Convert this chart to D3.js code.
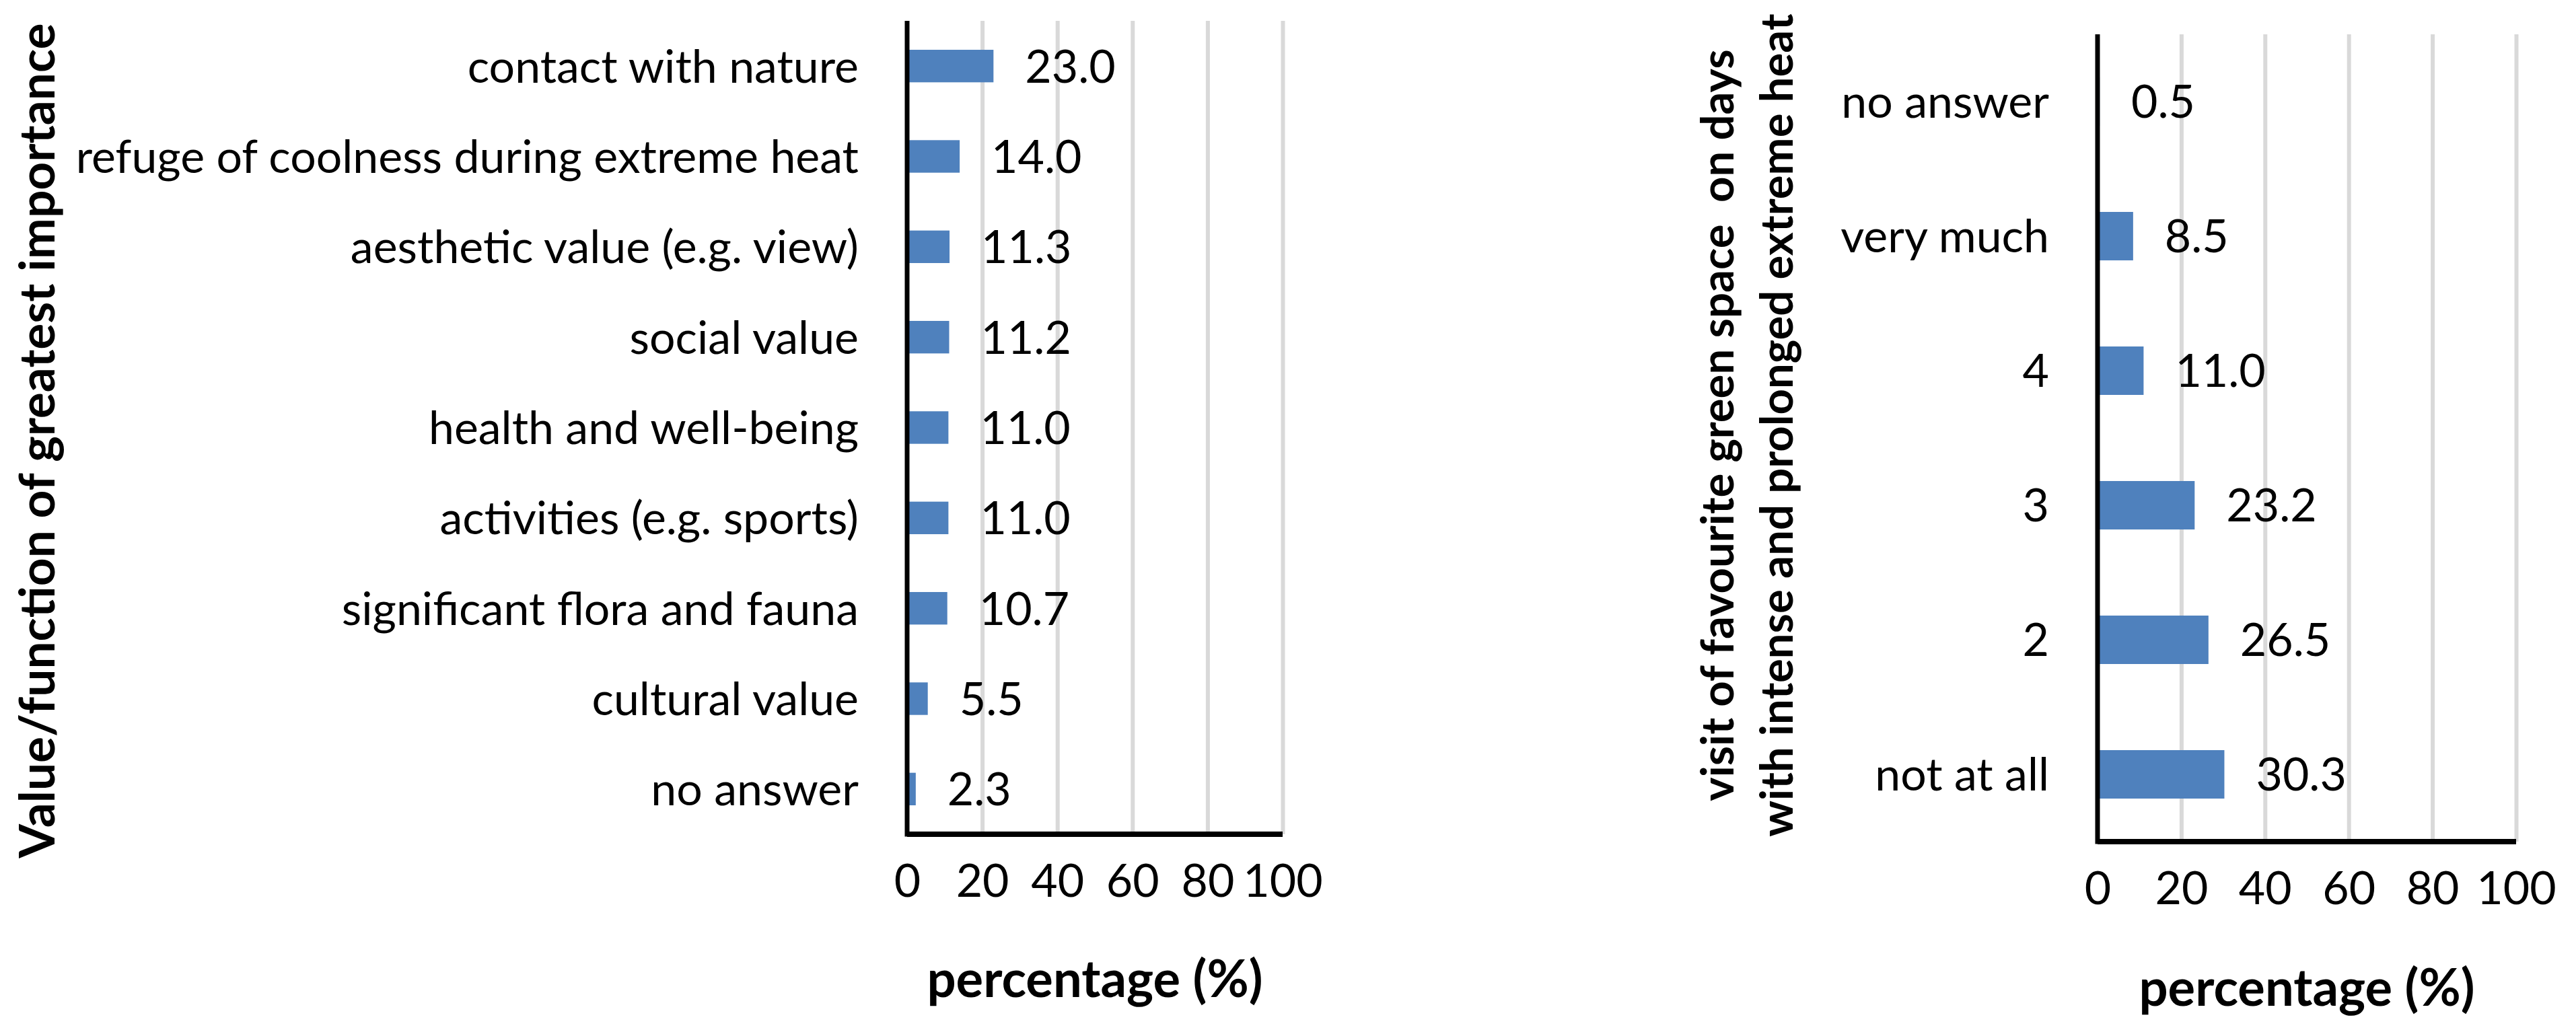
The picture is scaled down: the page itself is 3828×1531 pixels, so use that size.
<!DOCTYPE html>
<html>
<head>
<meta charset="utf-8">
<script src="https://cdn.jsdelivr.net/npm/d3@7"></script>
<style>
  body { margin: 0; background: #fff; }
  svg text { font-family: Lato, "Open Sans", sans-serif; fill: #000; white-space: pre; }
</style>
</head>
<body>
<svg id="chart" width="3828" height="1531"></svg>
<script>
// ---------------- DATA ----------------
const importanceCategories = [
  "contact with nature",
  "refuge of coolness during extreme heat",
  "aesthetic value (e.g. view)",
  "social value",
  "health and well-being",
  "activities (e.g. sports)",
  "significant flora and fauna",
  "cultural value",
  "no answer"
];
const importanceValues = [23.0, 14.0, 11.3, 11.2, 11.0, 11.0, 10.7, 5.5, 2.3];

const heatVisitCategories = ["no answer", "very much", "4", "3", "2", "not at all"];
const heatVisitValues = [0.5, 8.5, 11.0, 23.2, 26.5, 30.3];

const xTickValues = [0, 20, 40, 60, 80, 100];
const xAxisTitle = "percentage (%)";
const leftYTitle = ["Value/function of greatest importance"];
const rightYTitle = ["visit of favourite green space  on days", "with intense and prolonged extreme heat"];

// ---------------- STYLE / LAYOUT ----------------
const BAR_COLOR = "#4f81bd";
const GRID_COLOR = "#d9d9d9";
const LABEL_SIZE = 68;
const XTITLE_SIZE = 76;

const panels = [
  {
    categories: importanceCategories, values: importanceValues,
    x0: 1348, x1: 1906, top: 31, bottom: 1240,
    titleLines: leftYTitle, titleXs: [55], titleY: 655, titleSize: 73,
    xTitleY: 1455
  },
  {
    categories: heatVisitCategories, values: heatVisitValues,
    x0: 3117, x1: 3739, top: 51, bottom: 1251,
    titleLines: rightYTitle, titleXs: [2552, 2640], titleY: 632, titleSize: 67,
    xTitleY: 1468
  }
];

const svg = d3.select("#chart");

panels.forEach(p => {
  const g = svg.append("g");
  const x = d3.scaleLinear().domain([0, 100]).range([p.x0, p.x1]);
  const pad = 0.64;
  const y = d3.scaleBand().domain(p.categories).range([p.top, p.bottom])
    .paddingInner(pad).paddingOuter(pad / 2);

  // gridlines
  const grid = g.append("g")
    .attr("transform", `translate(0,${p.bottom})`)
    .call(d3.axisBottom(x).tickValues(xTickValues.filter(v => v > 0))
      .tickSize(-(p.bottom - p.top)).tickFormat(""));
  grid.select(".domain").remove();
  grid.selectAll(".tick line").attr("stroke", GRID_COLOR).attr("stroke-width", 6);

  // bars
  g.selectAll("rect.bar").data(p.values).join("rect")
    .attr("class", "bar")
    .attr("x", x(0))
    .attr("y", (d, i) => y(p.categories[i]))
    .attr("width", d => x(d) - x(0))
    .attr("height", y.bandwidth())
    .attr("fill", BAR_COLOR);

  // value labels
  g.selectAll("text.val").data(p.values).join("text")
    .attr("class", "val")
    .attr("x", d => x(d) + 47)
    .attr("y", (d, i) => y(p.categories[i]) + y.bandwidth() / 2)
    .attr("dy", "0.36em")
    .attr("font-size", LABEL_SIZE)
    .text(d => d3.format(".1f")(d));

  // y axis (category labels)
  const ya = g.append("g")
    .attr("transform", `translate(${p.x0},0)`)
    .call(d3.axisLeft(y).tickSize(0).tickPadding(72));
  ya.select(".domain").remove();
  ya.selectAll("text").attr("font-size", LABEL_SIZE).attr("font-family", null)
    .attr("fill", "#000").attr("dy", "0.36em");

  // x axis tick labels
  const xa = g.append("g")
    .attr("transform", `translate(0,${p.bottom})`)
    .call(d3.axisBottom(x).tickValues(xTickValues).tickSize(0).tickPadding(69));
  xa.select(".domain").remove();
  xa.selectAll("text").attr("font-size", LABEL_SIZE).attr("font-family", null)
    .attr("fill", "#000").attr("dy", "0.36em");

  // axis lines
  g.append("line").attr("x1", p.x0).attr("x2", p.x0)
    .attr("y1", p.top).attr("y2", p.bottom + 3.5)
    .attr("stroke", "#000").attr("stroke-width", 7);
  g.append("line").attr("x1", p.x0).attr("x2", p.x1)
    .attr("y1", p.bottom).attr("y2", p.bottom)
    .attr("stroke", "#000").attr("stroke-width", 8);

  // x title
  g.append("text")
    .attr("x", (p.x0 + p.x1) / 2).attr("y", p.xTitleY)
    .attr("dy", "0.36em")
    .attr("text-anchor", "middle")
    .attr("font-size", XTITLE_SIZE).attr("font-weight", "bold")
    .text(xAxisTitle);

  // y title (rotated)
  p.titleLines.forEach((line, i) => {
    g.append("text")
      .attr("transform", `translate(${p.titleXs[i]},${p.titleY}) rotate(-90)`)
      .attr("dy", "0.36em")
      .attr("text-anchor", "middle")
      .attr("font-size", p.titleSize).attr("font-weight", "bold")
      .text(line);
  });
});
</script>
</body>
</html>
